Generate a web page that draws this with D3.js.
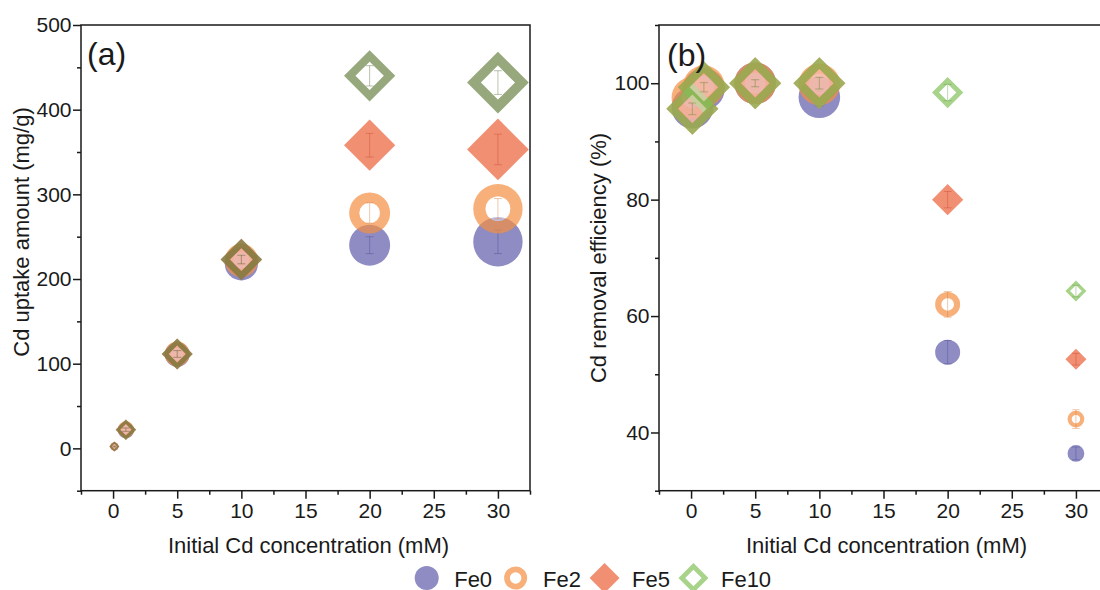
<!DOCTYPE html>
<html><head><meta charset="utf-8">
<script src="https://cdn.jsdelivr.net/npm/d3@7"></script>
<style>
html,body{margin:0;padding:0;background:#fff;}
svg{display:block;font-family:"Liberation Sans",Arial,Helvetica,sans-serif;}
</style></head><body>
<svg id="chart" width="1100" height="590"></svg>
<script>
// ---------------- data ----------------
const concentrations = [0.1, 1, 5, 10, 20, 30];          // Initial Cd concentration (mM)
const seriesNames = ["Fe0", "Fe2", "Fe5", "Fe10"];

// (a) Cd uptake amount (mg/g)
const uptakeFe0  = [2.1, 21.5, 111, 218, 240, 244];
const uptakeFe2  = [2.2, 22.2, 111.5, 222, 278, 283];
const uptakeFe5  = [2.1, 22.1, 111.5, 223, 358, 353];
const uptakeFe10 = [2.1, 22.1, 111.5, 223, 440, 432];
const uptakeErrFe0  = [0.5, 2, 4, 6, 10, 14];
const uptakeErrFe2  = [0.5, 2, 4, 5, 12, 12];
const uptakeErrFe5  = [0.5, 2, 4, 5, 14, 18];
const uptakeErrFe10 = [0.5, 2, 4, 5, 12, 14];

// (b) Cd removal efficiency (%)
const removalFe0  = [95.8, 99.0, 100, 97.6, 53.8, 36.4];
const removalFe2  = [97.5, 99.5, 100, 99.8, 62.0, 42.3];
const removalFe5  = [95.6, 99.3, 100, 100, 80.0, 52.6];
const removalFe10 = [95.6, 99.3, 100, 100, 98.4, 64.3];
const removalErrFe0  = [1.2, 0.8, 0.6, 1.5, 2.0, 1.1];
const removalErrFe2  = [1.0, 0.8, 0.6, 1.2, 2.2, 1.6];
const removalErrFe5  = [1.0, 0.8, 0.6, 1.0, 1.4, 1.0];
const removalErrFe10 = [1.0, 0.8, 0.6, 1.0, 1.4, 1.0];

// ticks
const xTicks  = [0, 5, 10, 15, 20, 25, 30];
const xMinor  = [-2.5, 2.5, 7.5, 12.5, 17.5, 22.5, 27.5, 32.5];
const yTicksA = [0, 100, 200, 300, 400, 500];
const yMinorA = [-50, 50, 150, 250, 350, 450];
const yTicksB = [40, 60, 80, 100];
const yMinorB = [30, 50, 70, 90, 110];

// ---------------- styles ----------------
const markerSizeA = [4, 8.2, 12.4, 16.6, 20.5, 24.7];  // circle radius (px) per concentration
const markerSizeB = [20.8, 20.8, 20.8, 20.8, 12.5, 8.4];
const DIAMOND = 1.25, RING_IN = 0.5, DIA_IN = 0.55, ALPHA = 0.7, HOLE_ALPHA = 0.45;
const styleA = [
  {shape: "circle",  hollow: false, color: "#5e5ba9", err: "#4a4790"},
  {shape: "circle",  hollow: true,  color: "#f48e41", err: "#d9742c"},
  {shape: "diamond", hollow: false, color: "#eb5f37", err: "#c9452a"},
  {shape: "diamond", hollow: true,  color: "#698345", err: "#4f6535"}
];
const styleB = [
  {shape: "circle",  hollow: false, color: "#5e5ba9", err: "#4a4790"},
  {shape: "circle",  hollow: true,  color: "#f48e41", err: "#d9742c"},
  {shape: "diamond", hollow: false, color: "#eb5f37", err: "#c9452a"},
  {shape: "diamond", hollow: true,  color: "#81c058", err: "#5f9a3e"}
];

const svg = d3.select("#chart");
svg.append("rect").attr("width", 1100).attr("height", 590).attr("fill", "#fff");

function circlePath(cx, cy, r) {
  return `M${cx - r},${cy}a${r},${r} 0 1,0 ${2 * r},0a${r},${r} 0 1,0 ${-2 * r},0Z`;
}
function diamondPath(cx, cy, h) {
  return `M${cx},${cy - h}L${cx + h},${cy}L${cx},${cy + h}L${cx - h},${cy}Z`;
}
function innerPath(st, cx, cy, r) {
  return st.shape === "circle" ? circlePath(cx, cy, r * RING_IN) : diamondPath(cx, cy, r * DIAMOND * DIA_IN);
}
function markerPath(st, cx, cy, r) {
  const outer = st.shape === "circle" ? circlePath(cx, cy, r) : diamondPath(cx, cy, r * DIAMOND);
  return outer + (st.hollow ? innerPath(st, cx, cy, r) : "");
}

function panel(opts) {
  const {left, top, width, height, yDomain, yMajor, yMinorT, values, errors, styles, sizes, yTitle, yTitleX, yTitleY, tag, tagX, tagY} = opts;
  const x = d3.scaleLinear().domain([-2.5, 32.5]).range([0, width]);
  const y = d3.scaleLinear().domain(yDomain).range([height, 0]);
  const g = svg.append("g").attr("transform", `translate(${left},${top})`);

  const styleAxis = sel => {
    sel.select(".domain").remove();
    sel.selectAll("line").attr("stroke", "#1a1a1a").attr("stroke-width", 1.5);
    sel.selectAll("text").attr("font-size", 21).attr("fill", "#1a1a1a")
      .attr("font-family", "'Liberation Sans', Arial, sans-serif");
  };
  g.append("g").attr("transform", `translate(0,${height})`)
    .call(d3.axisBottom(x).tickValues(xTicks).tickSize(8).tickPadding(4).tickFormat(d3.format("d")))
    .call(styleAxis);
  g.append("g").attr("transform", `translate(0,${height})`)
    .call(d3.axisBottom(x).tickValues(xMinor).tickSize(4).tickFormat(""))
    .call(styleAxis);
  g.append("g")
    .call(d3.axisLeft(y).tickValues(yMajor).tickSize(8).tickPadding(1.5).tickFormat(d3.format("d")))
    .call(styleAxis);
  g.append("g")
    .call(d3.axisLeft(y).tickValues(yMinorT).tickSize(4).tickFormat(""))
    .call(styleAxis);
  g.append("rect").attr("x", 0).attr("y", 0).attr("width", width).attr("height", height)
    .attr("fill", "none").attr("stroke", "#1a1a1a").attr("stroke-width", 1.5);

  values.forEach((vals, si) => {
    const st = styles[si];
    const sg = g.append("g");
    sg.selectAll("path.m").data(vals).join("path").attr("class", "m")
      .attr("d", (v, i) => markerPath(st, x(concentrations[i]), y(v), sizes[i]))
      .attr("fill", st.color).attr("fill-opacity", ALPHA).attr("fill-rule", "evenodd");
    if (st.hollow) {
      sg.selectAll("path.h").data(vals).join("path").attr("class", "h")
        .attr("d", (v, i) => innerPath(st, x(concentrations[i]), y(v), sizes[i]))
        .attr("fill", "#fff").attr("fill-opacity", HOLE_ALPHA);
    }
    const eg = sg.append("g").attr("stroke", st.err).attr("stroke-width", 1).attr("stroke-opacity", 0.4);
    vals.forEach((v, i) => {
      const cx = x(concentrations[i]);
      const e = errors[si][i];
      const y1 = y(v - e), y2 = y(v + e);
      const cw = Math.min(4, sizes[i] * 0.45);
      eg.append("line").attr("x1", cx).attr("x2", cx).attr("y1", y1).attr("y2", y2);
      eg.append("line").attr("x1", cx - cw).attr("x2", cx + cw).attr("y1", y1).attr("y2", y1);
      eg.append("line").attr("x1", cx - cw).attr("x2", cx + cw).attr("y1", y2).attr("y2", y2);
    });
  });

  g.append("text").attr("x", width / 2 + 3).attr("y", 553 - top)
    .attr("text-anchor", "middle").attr("font-size", 22).attr("fill", "#1a1a1a")
    .text("Initial Cd concentration (mM)");
  svg.append("text").attr("transform", `translate(${yTitleX},${yTitleY}) rotate(-90)`)
    .attr("text-anchor", "middle").attr("font-size", 22).attr("fill", "#1a1a1a")
    .text(yTitle);
  svg.append("text").attr("x", tagX).attr("y", tagY).attr("font-size", 32).attr("fill", "#1a1a1a").text(tag);
}

panel({
  left: 81, top: 25, width: 449, height: 465.7,
  yDomain: [-50, 500], yMajor: yTicksA, yMinorT: yMinorA,
  values: [uptakeFe0, uptakeFe2, uptakeFe5, uptakeFe10],
  errors: [uptakeErrFe0, uptakeErrFe2, uptakeErrFe5, uptakeErrFe10],
  styles: styleA, sizes: markerSizeA,
  yTitle: "Cd uptake amount (mg/g)", yTitleX: 28.5, yTitleY: 232,
  tag: "(a)", tagX: 87, tagY: 65
});
panel({
  left: 659, top: 25, width: 449, height: 465.7,
  yDomain: [30, 110], yMajor: yTicksB, yMinorT: yMinorB,
  values: [removalFe0, removalFe2, removalFe5, removalFe10],
  errors: [removalErrFe0, removalErrFe2, removalErrFe5, removalErrFe10],
  styles: styleB, sizes: markerSizeB,
  yTitle: "Cd removal efficiency (%)", yTitleX: 606, yTitleY: 258,
  tag: "(b)", tagX: 667, tagY: 66
});

// legend
const legend = svg.append("g");
const legendSizes = [12, 11.5, 12, 12];
let lx = 426.7;
seriesNames.forEach((name, i) => {
  const st = styleB[i];
  legend.append("path").attr("d", markerPath(st, lx, 578, legendSizes[i]))
    .attr("fill", st.color).attr("fill-opacity", ALPHA).attr("fill-rule", "evenodd");
  const t = legend.append("text").attr("x", lx + 27.5).attr("y", 586.5)
    .attr("font-size", 22).attr("fill", "#1a1a1a").text(name);
  const w = t.node().getComputedTextLength();
  lx = lx + 27.5 + w + 23.5;
});
</script>
</body></html>
